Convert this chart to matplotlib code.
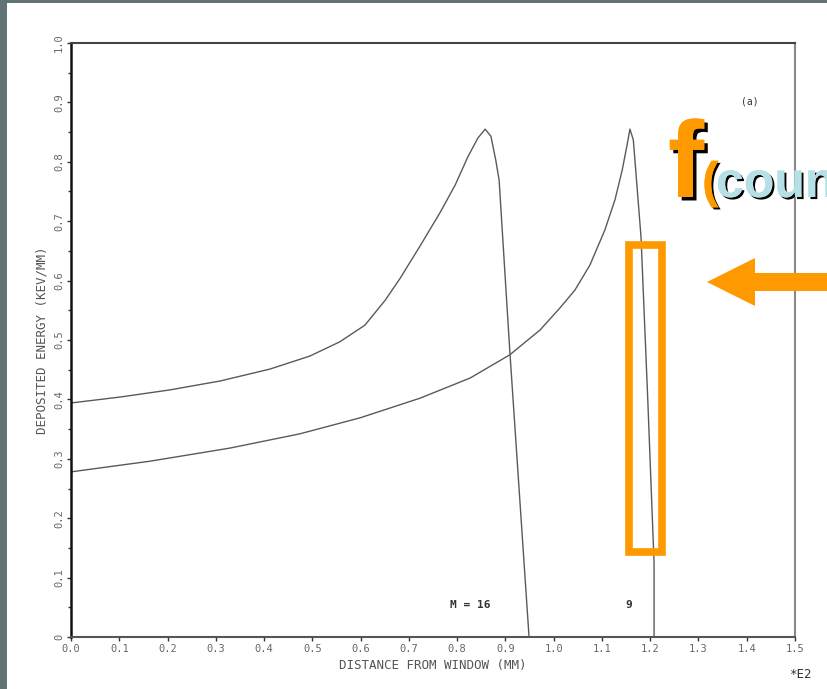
import numpy as np
import matplotlib
matplotlib.use("Agg")
import matplotlib.pyplot as plt
import matplotlib.patheffects as pe
from matplotlib.patches import Rectangle, FancyArrow

# M = 16 curve (distance in units of E2 mm, deposited energy keV/mm)
x_m16 = [0.0, 0.102, 0.205, 0.309, 0.412, 0.495, 0.557, 0.609, 0.651, 0.682,
         0.723, 0.765, 0.796, 0.822, 0.843, 0.858, 0.870, 0.880, 0.887, 0.909,
         0.949]
y_m16 = [0.394, 0.404, 0.416, 0.431, 0.451, 0.473, 0.497, 0.525, 0.567, 0.604,
         0.658, 0.715, 0.761, 0.808, 0.840, 0.855, 0.843, 0.803, 0.769, 0.483,
         0.0]

# M = 9 curve
x_m9 = [0.0, 0.164, 0.329, 0.474, 0.599, 0.723, 0.827, 0.909, 0.972, 1.013,
        1.044, 1.075, 1.106, 1.127, 1.142, 1.152, 1.158, 1.165, 1.170, 1.181,
        1.195, 1.208, 1.208]
y_m9 = [0.278, 0.296, 0.318, 0.342, 0.369, 0.402, 0.436, 0.475, 0.517, 0.554,
        0.584, 0.626, 0.685, 0.736, 0.786, 0.828, 0.855, 0.837, 0.786, 0.673,
        0.399, 0.125, 0.0]

x_ticks = np.round(np.arange(0, 1.51, 0.1), 1)
x_ticklabels = ["%.1f" % v for v in x_ticks]
y_ticks = np.round(np.arange(0, 1.01, 0.1), 1)
y_ticklabels = ["0"] + ["%.1f" % v for v in y_ticks[1:]]

W, H = 827, 689
fig = plt.figure(figsize=(W / 100, H / 100), dpi=100, facecolor="#617375")

# white page behind everything
fig.patches.append(Rectangle((7 / W, 0), 1 - 7 / W, 1 - 3 / H,
                             transform=fig.transFigure, facecolor="white",
                             edgecolor="none", zorder=-10))

ax = fig.add_axes([71 / W, 1 - 637 / H, (795 - 71) / W, (637 - 43) / H])
ax.set_zorder(1)
ax.set_facecolor("white")
ax.plot(x_m16, y_m16, color="#5a5a5a", lw=1.0)
ax.plot(x_m9, y_m9, color="#5a5a5a", lw=1.0)
ax.set_xlim(0, 1.5)
ax.set_ylim(0, 1.0)

mono = "DejaVu Sans Mono"
ax.set_xticks(x_ticks)
ax.set_xticklabels(x_ticklabels, fontsize=7.5, family=mono, color="#666666")
ax.set_yticks(y_ticks)
ax.set_yticklabels(y_ticklabels, fontsize=7.5, family=mono, color="#666666",
                   rotation=90, va="center")
ax.set_yticks(np.arange(0.05, 1.0, 0.1), minor=True)
ax.tick_params(axis="both", length=3, width=1, color="#333333", pad=2)
ax.tick_params(axis="y", which="minor", length=2, width=1, color="#333333")
for side, c in [("left", "#111111"), ("bottom", "#555555"),
                ("top", "#444444"), ("right", "#888888")]:
    ax.spines[side].set_color(c)
    ax.spines[side].set_linewidth(1.8 if side == "left" else 1.5)

ax.set_xlabel("DISTANCE FROM WINDOW (MM)", family=mono, fontsize=9,
              color="#555555", labelpad=4)
ax.set_ylabel("DEPOSITED ENERGY (KEV/MM)", family=mono, fontsize=9,
              color="#555555", labelpad=4)
fig.text(800 / W, 1 - 674 / H, "*E2", family=mono, fontsize=9,
         color="#333333", ha="center", va="center")

fig.text(750 / W, 1 - 102 / H, "(a)", family=mono, fontsize=7,
         color="#333333", ha="center", va="center")
fig.text(470 / W, 1 - 605 / H, "M = 16", family=mono, fontsize=8,
         color="#333333", ha="center", va="center", weight="bold")
fig.text(629 / W, 1 - 605 / H, "9", family=mono, fontsize=8,
         color="#333333", ha="center", va="center", weight="bold")

# overlay annotation
def shadow(d):
    return [pe.withSimplePatchShadow(offset=(d, -d), shadow_rgbFace="black",
                                     alpha=1.0), pe.Normal()]

fig.text(668 / W, 1 - 197 / H, "f", fontsize=78, weight="bold",
         family="Liberation Sans", color="#FF9900", ha="left",
         va="baseline", path_effects=shadow(2.5), zorder=6)
fig.text(702 / W, 1 - 197 / H, "(", fontsize=36, weight="bold",
         family="Liberation Sans", color="#FF9900", ha="left",
         va="baseline", path_effects=shadow(1.5), zorder=6)
fig.text(716 / W, 1 - 197 / H, "coun", fontsize=36, weight="bold",
         family="Liberation Sans", color="#B7E0E6", ha="left",
         va="baseline", path_effects=shadow(1.5), zorder=6)

fig.patches.append(Rectangle((629 / W, 1 - 552 / H), 33 / W, 307 / H,
                             transform=fig.transFigure, facecolor="none",
                             edgecolor="#FF9900", lw=5.5, zorder=5))
fig.patches.append(FancyArrow(830 / W, 1 - 282 / H, -123 / W, 0,
                              width=18 / H, head_width=48 / H,
                              head_length=48 / W, length_includes_head=True,
                              transform=fig.transFigure, color="#FF9900",
                              lw=0, zorder=5))

fig.savefig("out.png", dpi=100, facecolor=fig.get_facecolor())
